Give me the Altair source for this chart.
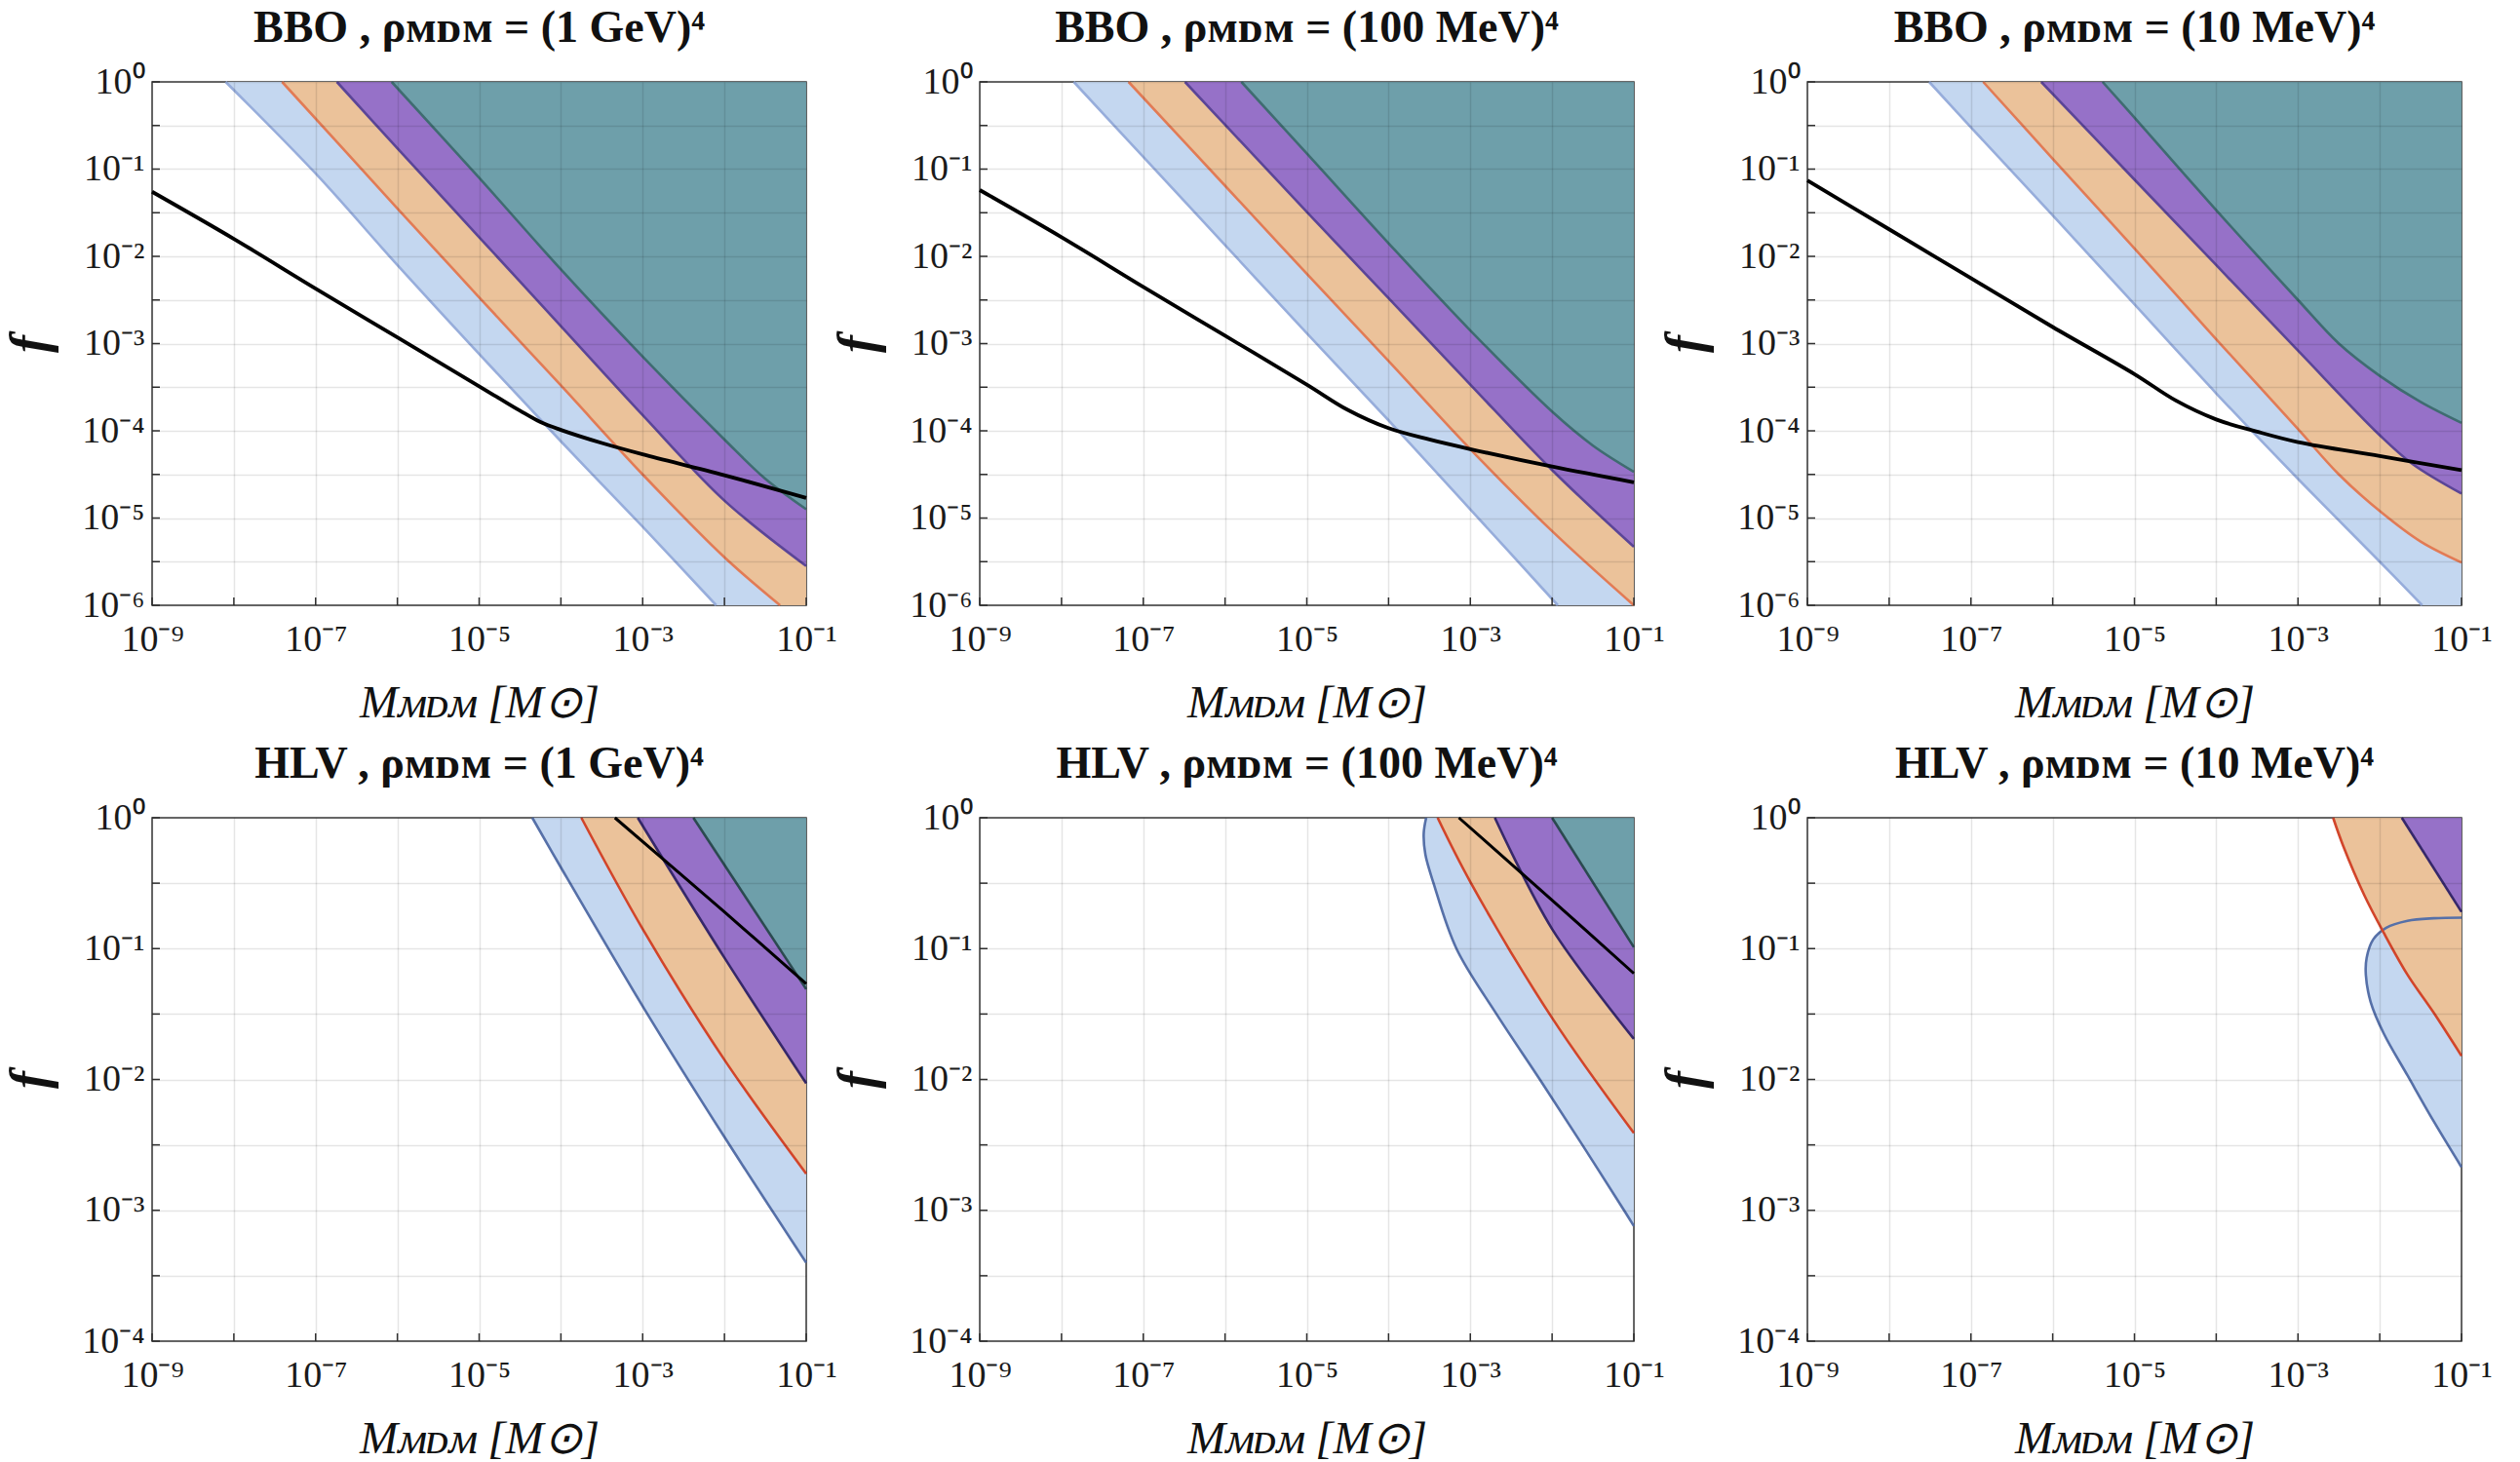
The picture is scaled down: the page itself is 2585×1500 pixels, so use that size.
import json
import altair as alt
import pandas as pd

# ---------------- axes ----------------
M_MIN, M_MAX = 1e-9, 1e-1
F_MAX = 1.0
F_MIN_TOP = 1e-6
F_MIN_BOTTOM = 1e-4

X_TICK_EXPONENTS = [-9, -8, -7, -6, -5, -4, -3, -2, -1]
X_TICK_LABELS = ["10⁻⁹", "", "10⁻⁷", "", "10⁻⁵", "", "10⁻³", "", "10⁻¹"]
Y_TICK_EXPONENTS_TOP = [0, -0.5, -1, -1.5, -2, -2.5, -3, -3.5, -4, -4.5, -5, -5.5, -6]
Y_TICK_LABELS_TOP = ["10⁰", "", "10⁻¹", "", "10⁻²", "", "10⁻³", "", "10⁻⁴", "", "10⁻⁵", "", "10⁻⁶"]
Y_TICK_EXPONENTS_BOTTOM = [0, -0.5, -1, -1.5, -2, -2.5, -3, -3.5, -4]
Y_TICK_LABELS_BOTTOM = ["10⁰", "", "10⁻¹", "", "10⁻²", "", "10⁻³", "", "10⁻⁴"]

TITLES = [
    "BBO , ρᴍᴅᴍ = (1 GeV)⁴",
    "BBO , ρᴍᴅᴍ = (100 MeV)⁴",
    "BBO , ρᴍᴅᴍ = (10 MeV)⁴",
    "HLV , ρᴍᴅᴍ = (1 GeV)⁴",
    "HLV , ρᴍᴅᴍ = (100 MeV)⁴",
    "HLV , ρᴍᴅᴍ = (10 MeV)⁴",
]
X_TITLE = "Mᴍᴅᴍ [M⊙]"
Y_TITLE = "f"

# ---------------- data: [log10 M, log10 f] along each boundary ----------------
# BBO, (1 GeV)^4
BBO1_BLUE = [[-8.10, 0], [-7, -1.05], [-6, -2.1], [-5, -3.12], [-4, -4.12], [-3, -5.1], [-2.1, -6]]
BBO1_RED = [[-7.41, 0], [-6, -1.45], [-5, -2.47], [-4, -3.48], [-3, -4.5], [-2, -5.45], [-1.32, -6]]
BBO1_PURPLE = [[-6.74, 0], [-6, -0.76], [-5, -1.78], [-4, -2.8], [-3, -3.82], [-2, -4.8], [-1, -5.55]]
BBO1_TEAL = [[-6.07, 0], [-5, -1.1], [-4, -2.15], [-3, -3.15], [-2, -4.1], [-1.5, -4.55], [-1, -4.9]]
BBO1_BLACK = [[-9, -1.26], [-8, -1.80], [-7, -2.37], [-6, -2.93], [-5, -3.49], [-4.75, -3.63],
              [-4.5, -3.77], [-4.25, -3.90], [-4, -3.99], [-3.5, -4.14], [-3, -4.27], [-2, -4.51], [-1, -4.77]]

# BBO, (100 MeV)^4
BBO2_BLUE = [[-7.85, 0], [-7, -0.86], [-6, -1.87], [-5, -2.88], [-4, -3.88], [-3, -4.9], [-1.93, -6]]
BBO2_RED = [[-7.18, 0], [-6, -1.19], [-5, -2.2], [-4, -3.2], [-3, -4.21], [-2, -5.15], [-1, -6.0]]
BBO2_PURPLE = [[-6.49, 0], [-6, -0.49], [-5, -1.49], [-4, -2.48], [-3, -3.47], [-2, -4.45], [-1, -5.33]]
BBO2_TEAL = [[-5.8, 0], [-5, -0.82], [-4, -1.85], [-3, -2.85], [-2, -3.78], [-1.5, -4.17], [-1, -4.47]]
BBO2_BLACK = [[-9, -1.24], [-8, -1.78], [-7, -2.35], [-6, -2.91], [-5, -3.47], [-4.5, -3.76],
              [-4, -3.97], [-3.5, -4.1], [-3, -4.21], [-2, -4.41], [-1, -4.59]]

# BBO, (10 MeV)^4
BBO3_BLUE = [[-7.51, 0], [-7, -0.52], [-6, -1.53], [-5, -2.55], [-4, -3.57], [-3, -4.55], [-2, -5.5], [-1.48, -6]]
BBO3_RED = [[-6.85, 0], [-6, -0.88], [-5, -1.91], [-4, -2.95], [-3, -3.98], [-2.5, -4.5], [-2, -4.92],
            [-1.5, -5.27], [-1, -5.51]]
BBO3_PURPLE = [[-6.14, 0], [-5, -1.12], [-4, -2.1], [-3, -3.08], [-2, -4.05], [-1.6, -4.38], [-1, -4.72]]
BBO3_TEAL = [[-5.39, 0], [-5, -0.41], [-4, -1.47], [-3, -2.5], [-2.5, -3.0], [-2, -3.37], [-1.5, -3.67], [-1, -3.91]]
BBO3_BLACK = [[-9, -1.13], [-8, -1.69], [-7, -2.25], [-6, -2.81], [-5, -3.35], [-4.5, -3.65],
              [-4, -3.87], [-3.5, -4.01], [-3, -4.13], [-2, -4.29], [-1, -4.45]]

# HLV, (1 GeV)^4
HLV1_BLUE = [[-4.35, 0], [-4, -0.38], [-3, -1.44], [-2, -2.44], [-1, -3.40]]
HLV1_RED = [[-3.75, 0], [-3, -0.85], [-2, -1.85], [-1, -2.72]]
HLV1_PURPLE = [[-3.06, 0], [-2, -1.07], [-1, -2.03]]
HLV1_TEAL = [[-2.38, 0], [-1, -1.31]]
HLV1_BLACK = [[-3.34, 0], [-2, -0.72], [-1, -1.27]]

# HLV, (100 MeV)^4
HLV2_BLUE = [[-3.54, 0], [-3.57, -0.12], [-3.55, -0.28], [-3.45, -0.5], [-3.17, -1.0], [-2.68, -1.5],
             [-2.15, -2.0], [-1.63, -2.5], [-1.12, -3.0], [-1, -3.12]]
HLV2_RED = [[-3.40, 0], [-3, -0.49], [-2, -1.53], [-1, -2.41]]
HLV2_PURPLE = [[-2.70, 0], [-2, -0.85], [-1, -1.69]]
HLV2_TEAL = [[-2.0, 0], [-1, -0.99]]
HLV2_BLACK = [[-3.14, 0], [-2, -0.63], [-1, -1.19]]

# HLV, (10 MeV)^4
HLV3_BLUE = [[-1, -0.763], [-1.34, -0.768], [-1.66, -0.787], [-1.92, -0.84], [-2.08, -0.93], [-2.16, -1.07],
             [-2.17, -1.2], [-2.11, -1.41], [-1.95, -1.65], [-1.66, -1.97], [-1.34, -2.32], [-1, -2.67]]
HLV3_RED = [[-2.57, 0], [-2.45, -0.21], [-2.19, -0.59], [-1.95, -0.88], [-1.66, -1.2], [-1.34, -1.49], [-1, -1.82]]
HLV3_PURPLE = [[-1.73, 0], [-1, -0.72]]

# ---------------- style ----------------
FONT = "Liberation Serif"
FILL = {"blue": "#c4d7f0", "red": "#ebc29a", "purple": "#9671c8", "teal": "#6e9faa"}
STROKE_BBO = {"blue": "#97addb", "red": "#e27b55", "purple": "#5b4597", "teal": "#3f6c71"}
STROKE_HLV = {"blue": "#5670a8", "red": "#d2452a", "purple": "#36286a", "teal": "#2b4a50"}
W, H = 671, 537
CURVE = "catmull-rom"


def curve_df(points):
    return pd.DataFrame({
        "m": [10 ** p[0] for p in points],
        "f": [10 ** p[1] for p in points],
        "edge": [M_MAX] * len(points),
        "i": list(range(len(points))),
    })


def label_expr(labels, scale, offset):
    return json.dumps(labels, ensure_ascii=False) + f"[round({scale}*log(datum.value)/LN10 + ({offset}))]"


def encodings(fmin, y_exps, y_labels):
    x = alt.X(
        "m:Q",
        scale=alt.Scale(type="log", domain=[M_MIN, M_MAX], nice=False),
        axis=alt.Axis(
            values=[10.0 ** e for e in X_TICK_EXPONENTS],
            labelExpr=label_expr(X_TICK_LABELS, 1, 9),
            grid=True, gridColor="#000000", gridOpacity=0.1, gridWidth=1.5,
            ticks=False, domain=False, labelFlush=False, labelOverlap=False,
            labelFont=FONT, labelFontSize=38, labelColor="#1a1a1a", labelPadding=16,
            title=X_TITLE, titleFont=FONT, titleFontSize=47, titleFontStyle="italic",
            titleFontWeight="normal", titleColor="#111111", titleY=100, titleBaseline="middle",
            zindex=1,
        ),
    )
    y = alt.Y(
        "f:Q",
        scale=alt.Scale(type="log", domain=[fmin, F_MAX], nice=False),
        axis=alt.Axis(
            values=[10.0 ** e for e in y_exps],
            labelExpr=label_expr(y_labels, -2, 0),
            grid=True, gridColor="#000000", gridOpacity=0.1, gridWidth=1.5,
            ticks=False, domain=False, labelFlush=False, labelOverlap=False,
            labelFont=FONT, labelFontSize=38, labelColor="#1a1a1a", labelPadding=8,
            title=Y_TITLE, titleFont=FONT, titleFontSize=54, titleFontStyle="italic",
            titleFontWeight="bold", titleColor="#111111", titleX=-125, titleBaseline="middle",
            zindex=1,
        ),
    )
    return x, y


def panel(title, fmin, y_exps, y_labels, curves, black, strokes, black_width):
    x, y = encodings(fmin, y_exps, y_labels)
    layers = []
    for name, pts in curves:
        layers.append(
            alt.Chart(curve_df(pts))
            .mark_area(orient="horizontal", color=FILL[name], opacity=1, interpolate=CURVE)
            .encode(x=x, x2="edge:Q", y=y)
        )
    for name, pts in curves:
        layers.append(
            alt.Chart(curve_df(pts))
            .mark_line(color=strokes[name], strokeWidth=2.6, interpolate=CURVE)
            .encode(x=x, y=y, order="i:Q")
        )
    if black is not None:
        layers.append(
            alt.Chart(curve_df(black))
            .mark_line(color="#000000", strokeWidth=black_width, interpolate=CURVE)
            .encode(x=x, y=y, order="i:Q")
        )
    ytick_df = pd.DataFrame({"f": [10.0 ** e for e in y_exps]})
    xtick_df = pd.DataFrame({"m": [10.0 ** e for e in X_TICK_EXPONENTS]})
    layers.append(
        alt.Chart(ytick_df).mark_rule(color="#333333", strokeWidth=1.5)
        .encode(y=y, x=alt.value(0), x2=alt.value(8))
    )
    layers.append(
        alt.Chart(xtick_df).mark_rule(color="#333333", strokeWidth=1.5)
        .encode(x=x, y=alt.value(H), y2=alt.value(H - 8))
    )
    return alt.layer(*layers).properties(
        width=W, height=H,
        title=alt.TitleParams(
            text=title, font=FONT, fontSize=46, fontWeight="bold", color="#111111",
            anchor="middle", frame="group", baseline="alphabetic", offset=0, dy=24,
        ),
    )


panels = [
    panel(TITLES[0], F_MIN_TOP, Y_TICK_EXPONENTS_TOP, Y_TICK_LABELS_TOP,
          [("blue", BBO1_BLUE), ("red", BBO1_RED), ("purple", BBO1_PURPLE), ("teal", BBO1_TEAL)],
          BBO1_BLACK, STROKE_BBO, 3.8),
    panel(TITLES[1], F_MIN_TOP, Y_TICK_EXPONENTS_TOP, Y_TICK_LABELS_TOP,
          [("blue", BBO2_BLUE), ("red", BBO2_RED), ("purple", BBO2_PURPLE), ("teal", BBO2_TEAL)],
          BBO2_BLACK, STROKE_BBO, 3.8),
    panel(TITLES[2], F_MIN_TOP, Y_TICK_EXPONENTS_TOP, Y_TICK_LABELS_TOP,
          [("blue", BBO3_BLUE), ("red", BBO3_RED), ("purple", BBO3_PURPLE), ("teal", BBO3_TEAL)],
          BBO3_BLACK, STROKE_BBO, 3.8),
    panel(TITLES[3], F_MIN_BOTTOM, Y_TICK_EXPONENTS_BOTTOM, Y_TICK_LABELS_BOTTOM,
          [("blue", HLV1_BLUE), ("red", HLV1_RED), ("purple", HLV1_PURPLE), ("teal", HLV1_TEAL)],
          HLV1_BLACK, STROKE_HLV, 3.0),
    panel(TITLES[4], F_MIN_BOTTOM, Y_TICK_EXPONENTS_BOTTOM, Y_TICK_LABELS_BOTTOM,
          [("blue", HLV2_BLUE), ("red", HLV2_RED), ("purple", HLV2_PURPLE), ("teal", HLV2_TEAL)],
          HLV2_BLACK, STROKE_HLV, 3.0),
    panel(TITLES[5], F_MIN_BOTTOM, Y_TICK_EXPONENTS_BOTTOM, Y_TICK_LABELS_BOTTOM,
          [("blue", HLV3_BLUE), ("red", HLV3_RED), ("purple", HLV3_PURPLE)],
          None, STROKE_HLV, 3.0),
]

chart = (
    alt.concat(*panels, columns=3, spacing={"row": 218, "column": 178}, bounds="flush")
    .properties(padding={"left": 3, "top": 5, "right": 5, "bottom": 5}, background="white")
    .configure_view(stroke="#3c3c3c", strokeWidth=1.5)
)

chart.save("out.html", embed_options={"renderer": "svg", "actions": False})
